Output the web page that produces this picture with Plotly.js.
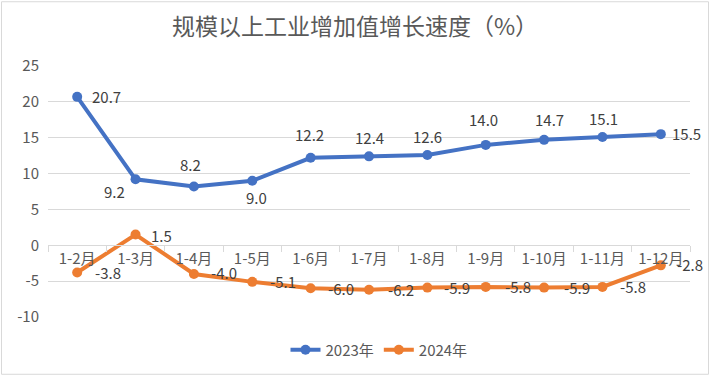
<!DOCTYPE html>
<html>
<head>
<meta charset="utf-8">
<script src="https://cdn.plot.ly/plotly-3.0.1.min.js"></script>
<style>
html,body{margin:0;padding:0;background:#fff;}
#chart{width:710px;height:377px;}
</style>
</head>
<body>
<div id="chart"></div>
<script>
const categories = ['1-2月','1-3月','1-4月','1-5月','1-6月','1-7月','1-8月','1-9月','1-10月','1-11月','1-12月'];
const values2023 = [20.7, 9.2, 8.2, 9.0, 12.2, 12.4, 12.6, 14.0, 14.7, 15.1, 15.5];
const values2024 = [-3.8, 1.5, -4.0, -5.1, -6.0, -6.2, -5.9, -5.8, -5.9, -5.8, -2.8];
const seriesNames = ['2023年', '2024年'];
const yTicks = [-10, -5, 0, 5, 10, 15, 20, 25];

// label offsets in pixels (xshift, yshift)
const offsets2023 = [[29,0],[-21,-12],[-3,22],[4,-17],[-1,23],[0,19],[0,18],[-2,25],[5,20],[1,19],[26,1]];
const offsets2024 = [[31,0],[26,-1],[30,1],[31,0],[30,0],[32,0],[30,0],[32,0],[33,0],[31,0],[29,1]];

const FONT = '"Noto Sans CJK SC", "Noto Sans", sans-serif';
const BLUE = '#4472C4';
const ORANGE = '#ED7D31';

const traces = [
  {x: categories, y: values2023, name: seriesNames[0], type: 'scatter', mode: 'lines+markers',
   line: {color: BLUE, width: 4}, marker: {color: BLUE, size: 10}},
  {x: categories, y: values2024, name: seriesNames[1], type: 'scatter', mode: 'lines+markers',
   line: {color: ORANGE, width: 4}, marker: {color: ORANGE, size: 10}}
];

const annotations = [];
function addLabels(vals, offs) {
  vals.forEach((v, i) => {
    annotations.push({x: categories[i], y: v, xref: 'x', yref: 'y', text: v.toFixed(1),
      showarrow: false, xshift: offs[i][0], yshift: offs[i][1],
      font: {family: FONT, size: 15, color: '#404040'}});
  });
}
addLabels(values2023, offsets2023);
addLabels(values2024, offsets2024);

const L = 48, R = 20, T = 66, B = 59, W = 710, H = 377;
const pw = W - L - R, ph = H - T - B;
const yMin = -10, yMax = 25;

const layout = {
  width: W, height: H,
  margin: {l: L, r: R, t: T, b: B, pad: 0},
  paper_bgcolor: '#fff', plot_bgcolor: '#fff',
  font: {family: FONT, size: 15, color: '#595959'},
  title: {text: '规模以上工业增加值增长速度（%）', x: 0.5, xanchor: 'center', y: 1 - 27/H, yanchor: 'middle', yref: 'container',
    font: {family: FONT, size: 23, color: '#595959'}},
  xaxis: {type: 'category', range: [-0.5, 10.5], anchor: 'free', position: (0 - yMin) / (yMax - yMin),
    showgrid: false, zeroline: false, showline: true, linecolor: '#d9d9d9', linewidth: 1,
    ticks: 'outside', ticklen: 6, tickcolor: '#d9d9d9', tickson: 'boundaries',
    tickfont: {family: FONT, size: 15, color: '#595959'}, fixedrange: true},
  yaxis: {range: [yMin, yMax], tickvals: yTicks, ticktext: yTicks.map(String), showgrid: true, gridcolor: '#d9d9d9', gridwidth: 1,
    zeroline: false, showline: false, ticks: '', ticklabelstandoff: 8,
    tickfont: {family: FONT, size: 15, color: '#595959'}, fixedrange: true},
  legend: {orientation: 'h', x: (379 - L) / pw, xanchor: 'center', y: -32/ph, yanchor: 'middle',
    font: {family: FONT, size: 15, color: '#595959'}, itemwidth: 30, tracegroupgap: 0},
  showlegend: true,
  annotations: annotations,
  shapes: [{type: 'rect', xref: 'paper', yref: 'paper',
    x0: (1.5 - L) / pw, x1: (708.5 - L) / pw, y0: (T + ph - 375.5) / ph, y1: (T + ph - 1.5) / ph,
    line: {color: '#d9d9d9', width: 1}, fillcolor: 'rgba(0,0,0,0)', layer: 'below'}]
};

Plotly.newPlot('chart', traces, layout, {staticPlot: true, displayModeBar: false});
</script>
</body>
</html>
